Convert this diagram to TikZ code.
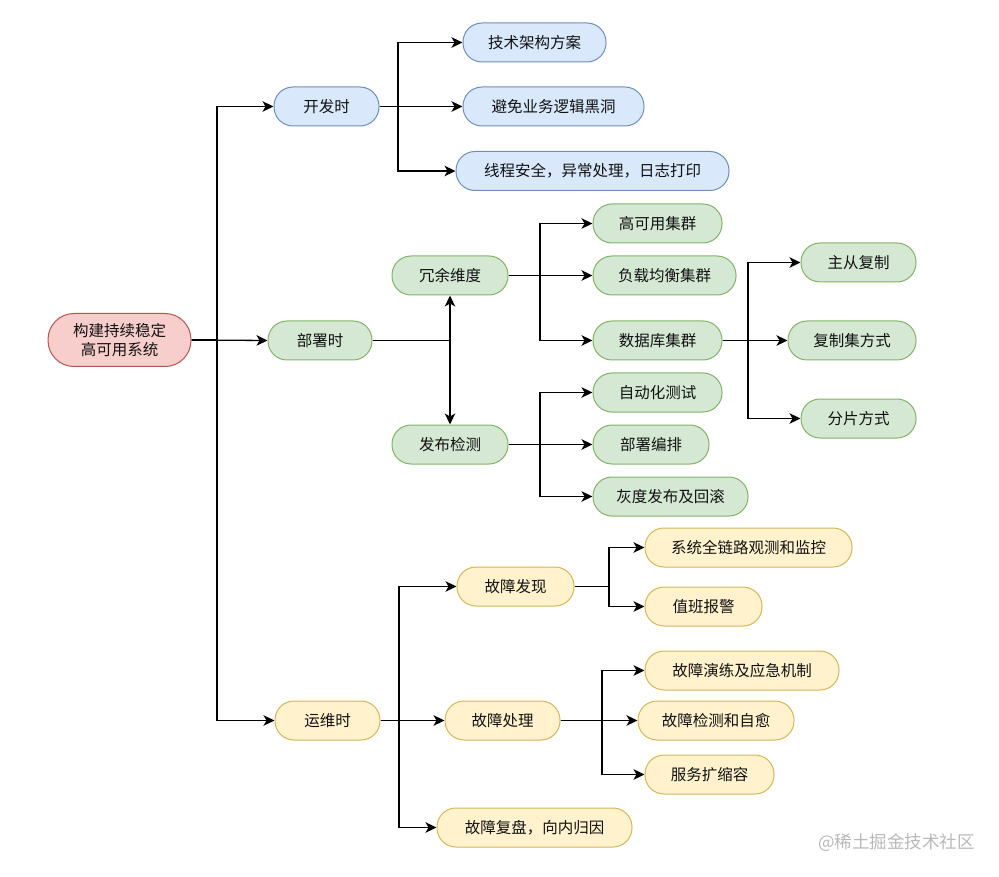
\documentclass[tikz,border=0pt]{standalone}
\usepackage{fontspec}
\setmainfont{Noto Sans CJK SC}
\usetikzlibrary{arrows.meta}
\definecolor{bfill}{HTML}{DAE8FC}\definecolor{bdraw}{HTML}{6C8EBF}
\definecolor{gfill}{HTML}{D5E8D4}\definecolor{gdraw}{HTML}{82B366}
\definecolor{yfill}{HTML}{FFF2CC}\definecolor{ydraw}{HTML}{D6B656}
\definecolor{rfill}{HTML}{F8CECC}\definecolor{rdraw}{HTML}{B85450}
\definecolor{txt}{HTML}{111111}
\tikzset{
  pill/.style={draw, line width=1pt, rounded corners=19pt, minimum height=39pt, inner sep=0pt,
    font=\fontsize{15.5}{19}\selectfont, text=txt, align=center},
  bluebox/.style={pill, fill=bfill, draw=bdraw},
  greenbox/.style={pill, fill=gfill, draw=gdraw},
  yellowbox/.style={pill, fill=yfill, draw=ydraw},
  redbox/.style={pill, fill=rfill, draw=rdraw, rounded corners=26pt, minimum height=53pt},
  arr/.style={draw=black, line width=1.3pt, -{Stealth[length=11pt,width=10.5pt,inset=3pt]}},
}
\begin{document}
\begin{tikzpicture}[x=1pt,y=-1pt]
\useasboundingbox (0,0) rectangle (999,877);
% nodes
\node[redbox, minimum width=143pt] (root) at (119.5,340) {构建持续稳定\\高可用系统};
\node[bluebox, minimum width=105pt] (dev) at (326.5,106.5) {开发时};
\node[greenbox, minimum width=104pt] (dep) at (320,340.5) {部署时};
\node[yellowbox, minimum width=105pt] (ops) at (327.5,720.5) {运维时};

\node[bluebox, minimum width=143pt] (t1) at (534.5,42.5) {技术架构方案};
\node[bluebox, minimum width=181pt] (t2) at (553.5,106.5) {避免业务逻辑黑洞};
\node[bluebox, minimum width=273pt] (t3) at (592.5,171) {线程安全，异常处理，日志打印};

\node[greenbox, minimum width=116pt] (red) at (450,275.5) {冗余维度};
\node[greenbox, minimum width=116pt] (pub) at (450,444.5) {发布检测};
\node[greenbox, minimum width=129pt] (g1) at (657.5,223.5) {高可用集群};
\node[greenbox, minimum width=143pt] (g2) at (664.5,275.5) {负载均衡集群};
\node[greenbox, minimum width=129pt] (g3) at (657.5,340.5) {数据库集群};
\node[greenbox, minimum width=129pt] (g4) at (657.5,392.5) {自动化测试};
\node[greenbox, minimum width=116pt] (g5) at (651,444.5) {部署编排};
\node[greenbox, minimum width=155pt] (g6) at (670.5,496.5) {灰度发布及回滚};
\node[greenbox, minimum width=115pt] (d1) at (858.5,262.5) {主从复制};
\node[greenbox, minimum width=128pt] (d2) at (852,340.5) {复制集方式};
\node[greenbox, minimum width=115pt] (d3) at (858.5,418.5) {分片方式};

\node[yellowbox, minimum width=117pt] (find) at (515.5,586.5) {故障发现};
\node[yellowbox, minimum width=115pt] (hand) at (502.5,720.5) {故障处理};
\node[yellowbox, minimum width=195pt] (rev) at (534.5,827.5) {故障复盘，向内归因};
\node[yellowbox, minimum width=207pt] (y1) at (748.5,547.5) {系统全链路观测和监控};
\node[yellowbox, minimum width=117pt] (y2) at (703.5,606.5) {值班报警};
\node[yellowbox, minimum width=194pt] (y3) at (742,670.5) {故障演练及应急机制};
\node[yellowbox, minimum width=156pt] (y4) at (716,720.5) {故障检测和自愈};
\node[yellowbox, minimum width=129pt] (y5) at (709.5,774.5) {服务扩缩容};

\node[text=black!28, font=\fontsize{17.5}{20}\selectfont, anchor=east, inner sep=0pt] (wm) at (975,843) {@稀土掘金技术社区};

% branch coordinates
\coordinate (xa) at (217,0);
\coordinate (xb) at (398,0);
\coordinate (xc) at (540,0);
\coordinate (xd) at (748,0);
\coordinate (xe) at (399,0);
\coordinate (xf) at (609,0);
\coordinate (xg) at (602,0);

% connectors
\draw[arr] (root.east) -- (dep.west);
\draw[arr] (root.east) -- (root.east -| xa) |- (dev.west);
\draw[arr] (root.east) -- (root.east -| xa) |- (ops.west);

\draw[arr] (dev.east) -- (dev.east -| xb) |- (t1.west);
\draw[arr] (dev.east) -- (t2.west);
\draw[arr] (dev.east) -- (dev.east -| xb) |- (t3.west);

\draw[arr] (dep.east) -| (red.south);
\draw[arr] (dep.east) -| (pub.north);

\draw[arr] (red.east) -- (red.east -| xc) |- (g1.west);
\draw[arr] (red.east) -- (g2.west);
\draw[arr] (red.east) -- (red.east -| xc) |- (g3.west);
\draw[arr] (pub.east) -- (pub.east -| xc) |- (g4.west);
\draw[arr] (pub.east) -- (g5.west);
\draw[arr] (pub.east) -- (pub.east -| xc) |- (g6.west);

\draw[arr] (g3.east) -- (g3.east -| xd) |- (d1.west);
\draw[arr] (g3.east) -- (d2.west);
\draw[arr] (g3.east) -- (g3.east -| xd) |- (d3.west);

\draw[arr] (ops.east) -- (ops.east -| xe) |- (find.west);
\draw[arr] (ops.east) -- (hand.west);
\draw[arr] (ops.east) -- (ops.east -| xe) |- (rev.west);

\draw[arr] (find.east) -- (find.east -| xf) |- (y1.west);
\draw[arr] (find.east) -- (find.east -| xf) |- (y2.west);

\draw[arr] (hand.east) -- (hand.east -| xg) |- (y3.west);
\draw[arr] (hand.east) -- (y4.west);
\draw[arr] (hand.east) -- (hand.east -| xg) |- (y5.west);
\end{tikzpicture}
\end{document}
